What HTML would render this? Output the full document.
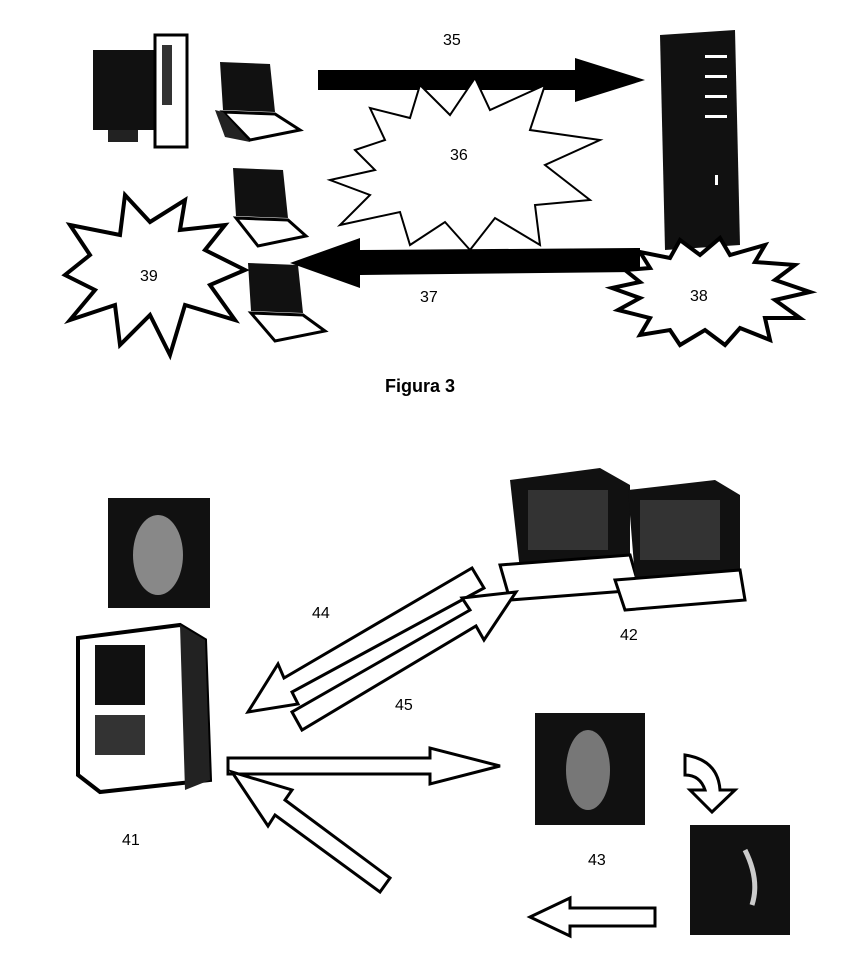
<!DOCTYPE html>
<html><head><meta charset="utf-8"><style>
html,body{margin:0;padding:0;background:#fff}
svg{display:block}
text{font-family:"Liberation Sans",sans-serif;font-size:16px;fill:#000}
</style></head><body>
<svg width="858" height="978" viewBox="0 0 858 978" xmlns="http://www.w3.org/2000/svg">
<!-- Top desktop -->
<rect x="93" y="50" width="62" height="80" fill="#111"/>
<rect x="108" y="130" width="30" height="12" fill="#222"/>
<rect x="155" y="35" width="32" height="112" fill="#fff" stroke="#000" stroke-width="3"/>
<rect x="162" y="45" width="10" height="60" fill="#333"/>
<!-- laptop 1 -->
<g transform="translate(215,62)"><polygon points="5,0 55,2 60,50 8,48" fill="#111"/><polygon points="8,50 60,52 85,68 35,78" fill="#fff" stroke="#000" stroke-width="3"/><polygon points="0,48 10,75 35,80 8,50" fill="#222"/></g>
<!-- laptop 2 -->
<g transform="translate(228,168)"><polygon points="5,0 55,2 60,50 8,48" fill="#111"/><polygon points="8,50 60,52 78,68 30,78" fill="#fff" stroke="#000" stroke-width="3"/></g>
<!-- laptop 3 -->
<g transform="translate(243,263)"><polygon points="5,0 55,2 60,50 8,48" fill="#111"/><polygon points="8,50 60,52 82,68 32,78" fill="#fff" stroke="#000" stroke-width="3"/></g>
<!-- server -->
<polygon points="660,35 735,30 740,245 665,250" fill="#111"/>
<rect x="705" y="55" width="22" height="3" fill="#fff"/><rect x="705" y="75" width="22" height="3" fill="#fff"/><rect x="705" y="95" width="22" height="3" fill="#fff"/><rect x="705" y="115" width="22" height="3" fill="#fff"/>
<rect x="715" y="175" width="3" height="10" fill="#fff"/>
<!-- arrow 35 -->
<polygon points="318,70 575,70 575,58 645,80 575,102 575,90 318,90" fill="#000"/>
<text x="443" y="45">35</text>
<!-- starburst 36 -->
<polygon points="355,150 385,140 370,108 410,118 420,85 450,115 475,78 490,110 545,85 530,130 600,140 545,165 590,200 535,205 540,245 495,218 470,250 445,222 410,245 400,212 340,225 370,195 330,180 375,170" fill="#fff" stroke="#000" stroke-width="2"/>
<text x="450" y="160">36</text>
<!-- arrow 37 -->
<polygon points="640,248 360,250 360,238 290,263 360,288 360,275 640,272" fill="#000"/>
<text x="420" y="302">37</text>
<!-- starburst 39 -->
<polygon points="70,225 120,235 125,195 150,222 185,200 180,230 225,225 205,250 245,270 210,285 235,320 185,305 170,355 150,315 120,345 115,305 70,320 95,290 65,275 90,255" fill="#fff" stroke="#000" stroke-width="4"/>
<text x="140" y="281">39</text>
<!-- starburst 38 -->
<polygon points="625,270 650,268 640,252 670,258 680,240 700,255 720,238 730,255 765,245 755,262 795,265 775,280 810,292 775,300 800,318 765,318 770,340 740,328 725,345 705,330 680,345 670,330 640,335 650,318 618,310 640,298 612,288 640,282" fill="#fff" stroke="#000" stroke-width="4"/>
<text x="690" y="301">38</text>
<text x="385" y="392" style="font-weight:bold;font-size:18px">Figura 3</text>
<!-- Bottom -->
<rect x="108" y="498" width="102" height="110" fill="#111"/>
<ellipse cx="158" cy="555" rx="25" ry="40" fill="#888"/>
<!-- tower 41 -->
<polygon points="78,638 180,625 205,640 210,780 100,792 78,775" fill="#fff" stroke="#000" stroke-width="4"/>
<polygon points="180,625 205,640 210,780 185,790" fill="#222"/>
<rect x="95" y="645" width="50" height="60" fill="#111"/>
<rect x="95" y="715" width="50" height="40" fill="#333"/>
<!-- monitors 42 -->
<g><polygon points="510,480 600,468 630,485 630,560 520,570" fill="#111"/><rect x="528" y="490" width="80" height="60" fill="#333"/>
<polygon points="500,565 630,555 640,590 510,600" fill="#fff" stroke="#000" stroke-width="3"/></g>
<g><polygon points="628,490 715,480 740,495 740,570 635,578" fill="#111"/><rect x="640" y="500" width="80" height="60" fill="#333"/>
<polygon points="615,580 740,570 745,600 625,610" fill="#fff" stroke="#000" stroke-width="3"/></g>
<text x="620" y="640">42</text>
<text x="312" y="618">44</text>
<text x="395" y="710">45</text>
<!-- diagonal arrows -->
<polygon points="472,568 484,588 292,692 298,704 248,712 278,664 284,678" fill="#fff" stroke="#000" stroke-width="3"/>
<polygon points="292,712 302,730 476,626 484,640 516,592 462,598 470,610" fill="#fff" stroke="#000" stroke-width="3"/>
<!-- horizontal arrow -->
<polygon points="228,758 430,758 430,748 500,766 430,784 430,774 228,774" fill="#fff" stroke="#000" stroke-width="3"/>
<rect x="535" y="713" width="110" height="112" fill="#111"/>
<ellipse cx="588" cy="770" rx="22" ry="40" fill="#777"/>
<!-- curved arrow -->
<path d="M685,755 Q718,760 720,790 L735,790 L712,812 L690,790 L705,790 Q700,775 685,775 Z" fill="#fff" stroke="#000" stroke-width="3"/>
<rect x="690" y="825" width="100" height="110" fill="#111"/>
<path d="M745,850 Q760,880 752,905" stroke="#ccc" stroke-width="5" fill="none"/>
<text x="122" y="845">41</text>
<text x="588" y="865">43</text>
<!-- up-left arrow -->
<polygon points="390,878 380,892 275,815 268,826 232,772 292,790 285,800" fill="#fff" stroke="#000" stroke-width="3"/>
<!-- left arrow -->
<polygon points="655,908 570,908 570,898 530,917 570,936 570,926 655,926" fill="#fff" stroke="#000" stroke-width="3"/>
</svg>
</body></html>
